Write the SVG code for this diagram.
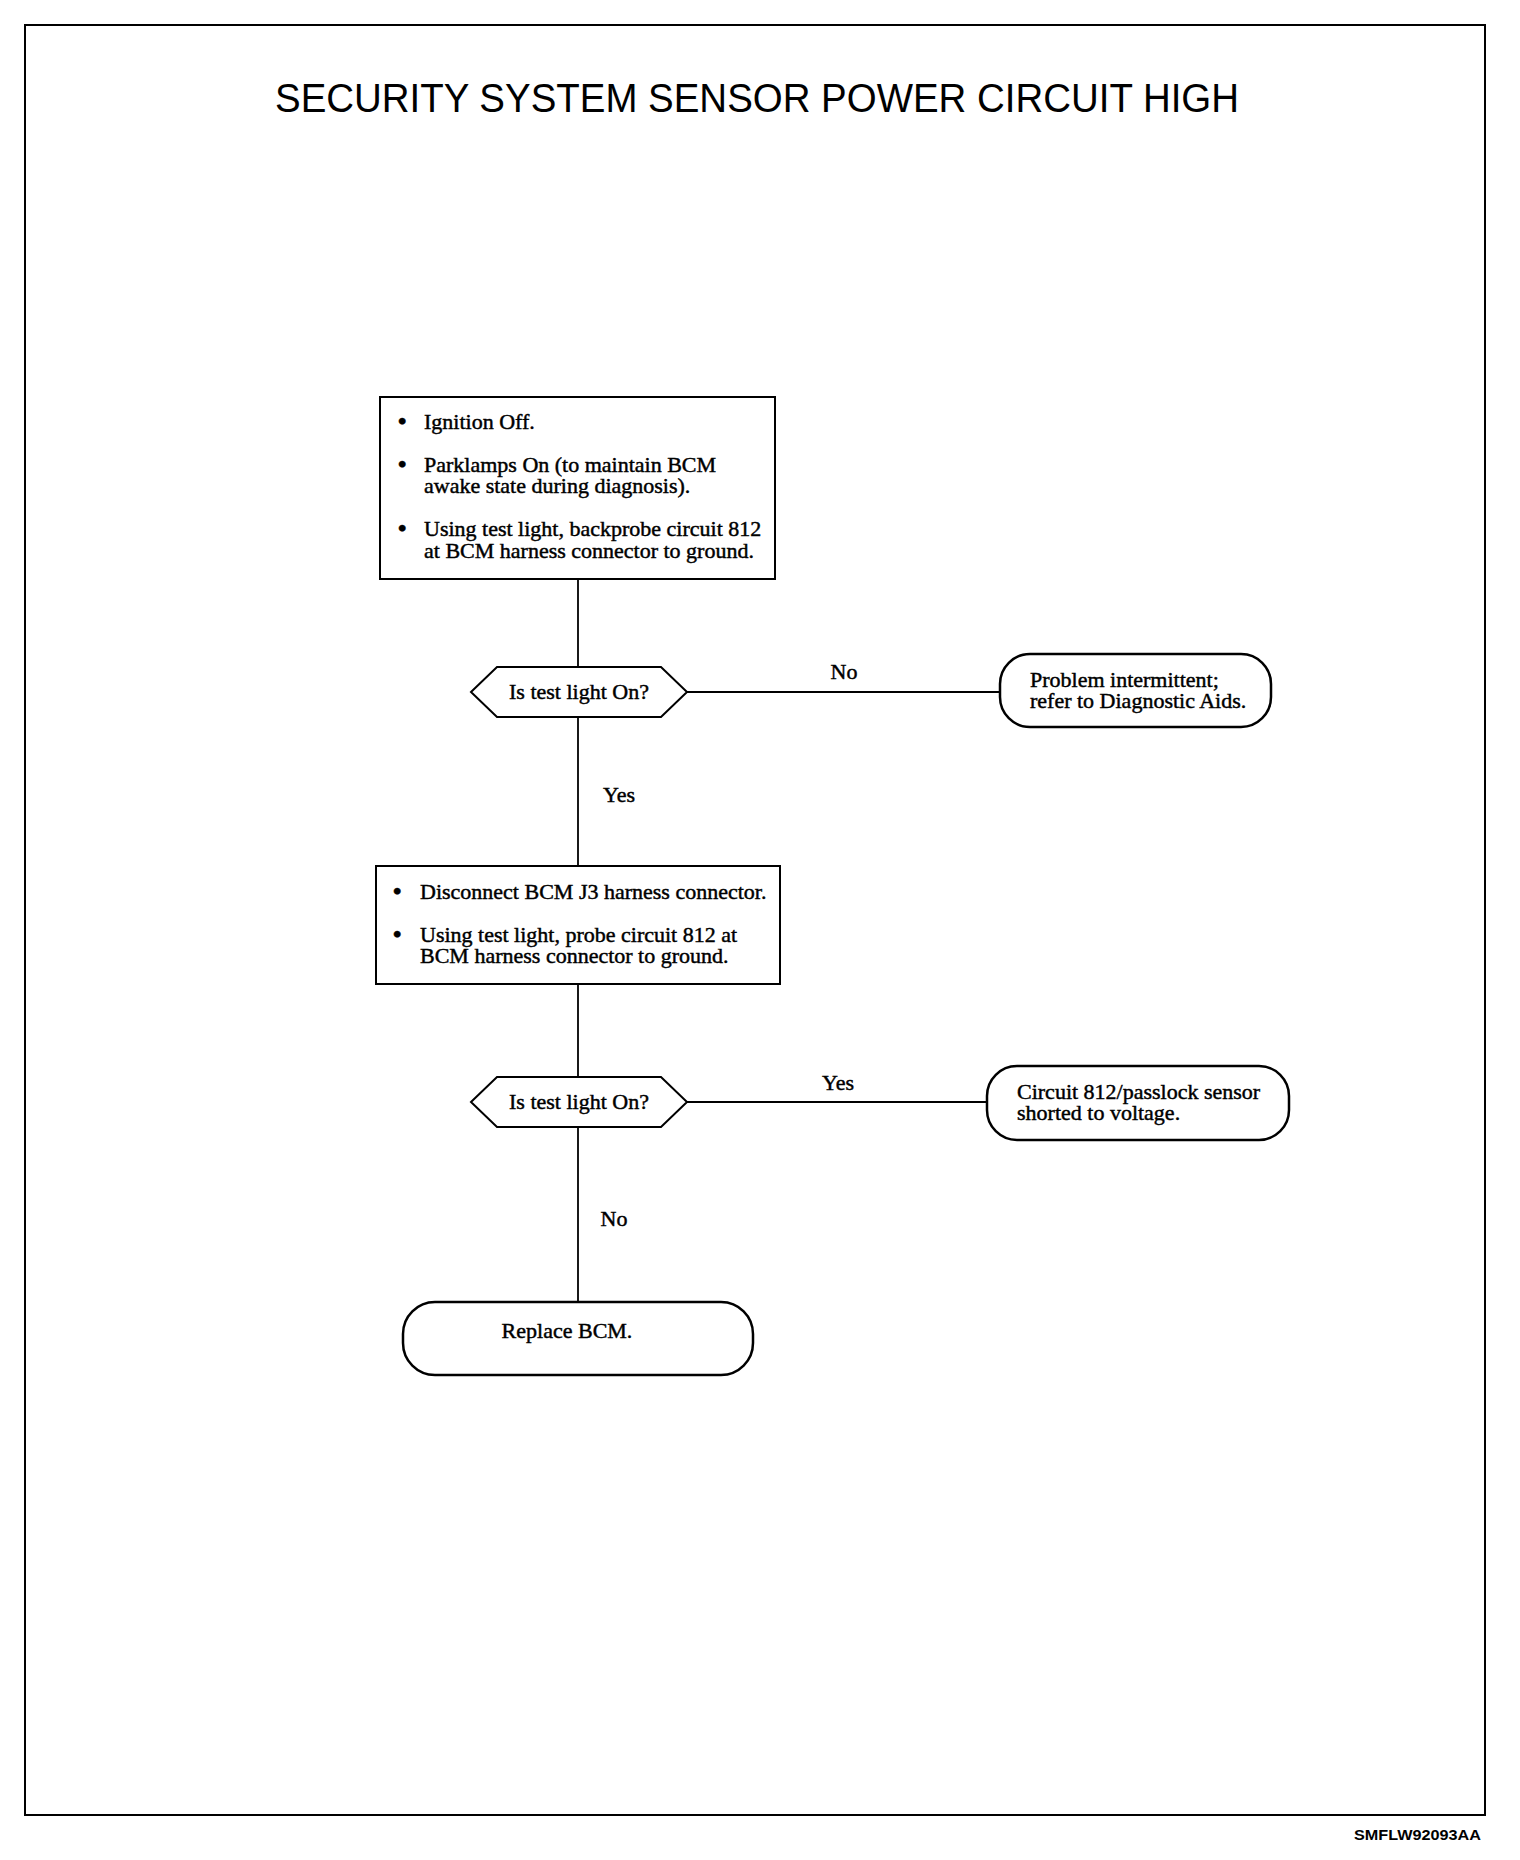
<svg xmlns="http://www.w3.org/2000/svg" width="1520" height="1860" viewBox="0 0 1520 1860">
<style>
.t{font-family:"Liberation Serif","Times New Roman",serif;font-size:22px;fill:#000;stroke:#000;stroke-width:0.45}
.c{text-anchor:middle}
.b{font-weight:bold;font-size:24px}
.box{fill:#fff;stroke:#000;stroke-width:2}
.term{fill:#fff;stroke:#000;stroke-width:2.5}
.ln{stroke:#000;stroke-width:1.8;fill:none}
</style>
<rect x="0" y="0" width="1520" height="1860" fill="#fff"/>
<rect x="25" y="25" width="1460" height="1790" fill="none" stroke="#000" stroke-width="2"/>
<text x="757" y="112" font-family="'Liberation Sans',Arial,sans-serif" font-size="40" text-anchor="middle" textLength="964" lengthAdjust="spacingAndGlyphs">SECURITY SYSTEM SENSOR POWER CIRCUIT HIGH</text>

<g id="connectors">
<line class="ln" x1="578" y1="579" x2="578" y2="667"/>
<line class="ln" x1="687" y1="692" x2="1000" y2="692"/>
<line class="ln" x1="578" y1="717" x2="578" y2="866"/>
<line class="ln" x1="578" y1="984" x2="578" y2="1077"/>
<line class="ln" x1="687" y1="1102" x2="987" y2="1102"/>
<line class="ln" x1="578" y1="1127" x2="578" y2="1302"/>
<text class="t c" x="844" y="679">No</text>
<text class="t c" x="619" y="802">Yes</text>
<text class="t c" x="838" y="1090">Yes</text>
<text class="t c" x="614" y="1226">No</text>
</g>

<g id="box1">
<rect class="box" x="380" y="397" width="395" height="182"/>
<text class="t b" x="398" y="429">•</text><text class="t" x="424" y="429">Ignition Off.</text>
<text class="t b" x="398" y="472">•</text><text class="t" x="424" y="472">Parklamps On (to maintain BCM</text>
<text class="t" x="424" y="493">awake state during diagnosis).</text>
<text class="t b" x="398" y="536">•</text><text class="t" x="424" y="536">Using test light, backprobe circuit 812</text>
<text class="t" x="424" y="558">at BCM harness connector to ground.</text>
</g>

<g id="decision1">
<polygon class="box" points="471,692 497,667 661,667 687,692 661,717 497,717"/>
<text class="t c" x="579" y="699">Is test light On?</text>
</g>

<g id="term1">
<rect class="term" x="1000" y="654" width="271" height="73" rx="30" ry="30"/>
<text class="t" x="1030" y="687">Problem intermittent;</text>
<text class="t" x="1030" y="708">refer to Diagnostic Aids.</text>
</g>

<g id="box2">
<rect class="box" x="376" y="866" width="404" height="118"/>
<text class="t b" x="393" y="899">•</text><text class="t" x="420" y="899">Disconnect BCM J3 harness connector.</text>
<text class="t b" x="393" y="942">•</text><text class="t" x="420" y="942">Using test light, probe circuit 812 at</text>
<text class="t" x="420" y="963">BCM harness connector to ground.</text>
</g>

<g id="decision2">
<polygon class="box" points="471,1102 497,1077 661,1077 687,1102 661,1127 497,1127"/>
<text class="t c" x="579" y="1109">Is test light On?</text>
</g>

<g id="term2">
<rect class="term" x="987" y="1066" width="302" height="74" rx="30" ry="30"/>
<text class="t" x="1017" y="1099">Circuit 812/passlock sensor</text>
<text class="t" x="1017" y="1120">shorted to voltage.</text>
</g>

<g id="term3">
<rect class="term" x="403" y="1302" width="350" height="73" rx="32" ry="32"/>
<text class="t c" x="567" y="1338">Replace BCM.</text>
</g>

<text x="1481" y="1840" font-family="'Liberation Sans',Arial,sans-serif" font-size="14" font-weight="bold" text-anchor="end" textLength="127" lengthAdjust="spacingAndGlyphs">SMFLW92093AA</text>
</svg>
